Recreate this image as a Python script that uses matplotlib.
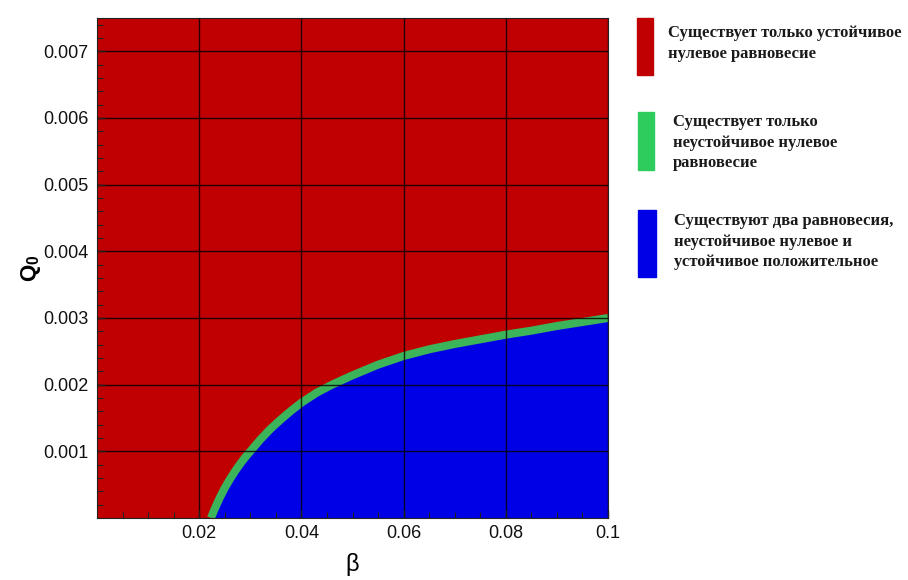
import numpy as np
import matplotlib
matplotlib.use("Agg")
import matplotlib.pyplot as plt
from matplotlib.patches import Rectangle

plt.rcParams['font.family'] = ['Liberation Sans', 'DejaVu Sans']
plt.rcParams['mathtext.fontset'] = 'custom'
plt.rcParams['mathtext.rm'] = 'Liberation Sans'
plt.rcParams['mathtext.bf'] = 'Liberation Sans:bold'

# boundary between regions (beta, Q0)
beta = [0.0223, 0.023, 0.024, 0.025, 0.026, 0.027, 0.028, 0.029, 0.030, 0.032,
        0.034, 0.036, 0.038, 0.040, 0.043, 0.046, 0.050, 0.055, 0.060, 0.065,
        0.070, 0.075, 0.080, 0.085, 0.090, 0.095, 0.100]
q0 = [0.0, 0.00013, 0.00030, 0.00045, 0.00058, 0.00070, 0.00081, 0.00091, 0.00100, 0.00118,
      0.00134, 0.00148, 0.00161, 0.00173, 0.00188, 0.00200, 0.00214, 0.00230, 0.00243, 0.00253,
      0.00261, 0.00268, 0.00275, 0.00281, 0.00288, 0.00294, 0.00300]

x_ticks = [0.02, 0.04, 0.06, 0.08, 0.1]
x_labels = ["0.02", "0.04", "0.06", "0.08", "0.1"]
y_ticks = [0.001, 0.002, 0.003, 0.004, 0.005, 0.006, 0.007]
y_labels = ["0.001", "0.002", "0.003", "0.004", "0.005", "0.006", "0.007"]

legend_labels = [
    "Существует только устойчивое\nнулевое равновесие",
    "Существует только\nнеустойчивое нулевое\nравновесие",
    "Существуют два равновесия,\nнеустойчивое нулевое и\nустойчивое положительное",
]
red = "#c00000"
green = "#3cb45a"
blue = "#0000e6"
legend_colors = [red, "#2ecc5c", blue]

W, H = 908, 580
fig = plt.figure(figsize=(W / 100, H / 100), dpi=100)
ax = fig.add_axes([97 / W, 1 - 518 / H, 511 / W, 500 / H])
ax.set_facecolor(red)

ax.fill_between(beta, 0, q0, color=blue, lw=0, zorder=1)
ax.plot(beta, q0, color=green, lw=5.8, solid_capstyle='butt', zorder=2)

ax.set_xlim(0, 0.1)
ax.set_ylim(0, 0.0075)
ax.set_xticks(x_ticks)
ax.set_xticklabels(x_labels)
ax.set_yticks(y_ticks)
ax.set_yticklabels(y_labels)
ax.set_xticks(np.arange(0.005, 0.1, 0.005), minor=True)
ax.set_yticks(np.arange(0.0002, 0.0075, 0.0002), minor=True)
ax.tick_params(which='both', direction='in', colors='#222222', labelcolor='#111111', labelsize=13)
ax.tick_params(which='major', length=6, width=1)
ax.tick_params(which='minor', length=4, width=0.8)
ax.tick_params(axis='x', pad=5)
ax.tick_params(axis='y', pad=6)
ax.set_axisbelow(False)
ax.grid(True, which='major', color='black', lw=1.0, alpha=0.8)
for s in ax.spines.values():
    s.set_color('#222222')

ax.set_xlabel("β", fontsize=17, labelpad=8)
ax.set_ylabel(r"$\mathbf{Q_0}$", fontsize=16, labelpad=0)

# legend drawn by hand
rects = [(637, 18, 16, 57), (638, 112, 16, 58), (638, 210, 18, 67)]
text_pos = [(668, 25), (673, 114), (674, 213)]
for (rx, ry, rw, rh), (tx, ty), lab, c in zip(rects, text_pos, legend_labels, legend_colors):
    fig.patches.append(Rectangle((rx / W, 1 - (ry + rh) / H), rw / W, rh / H,
                                 transform=fig.transFigure, color=c))
    fig.text(tx / W, 1 - ty / H, lab, family=['Liberation Serif', 'DejaVu Serif'],
             weight='bold', fontsize=12, color='#1a1a1a', va='top', ha='left',
             linespacing=1.38)

fig.savefig("out.png", dpi=100)
